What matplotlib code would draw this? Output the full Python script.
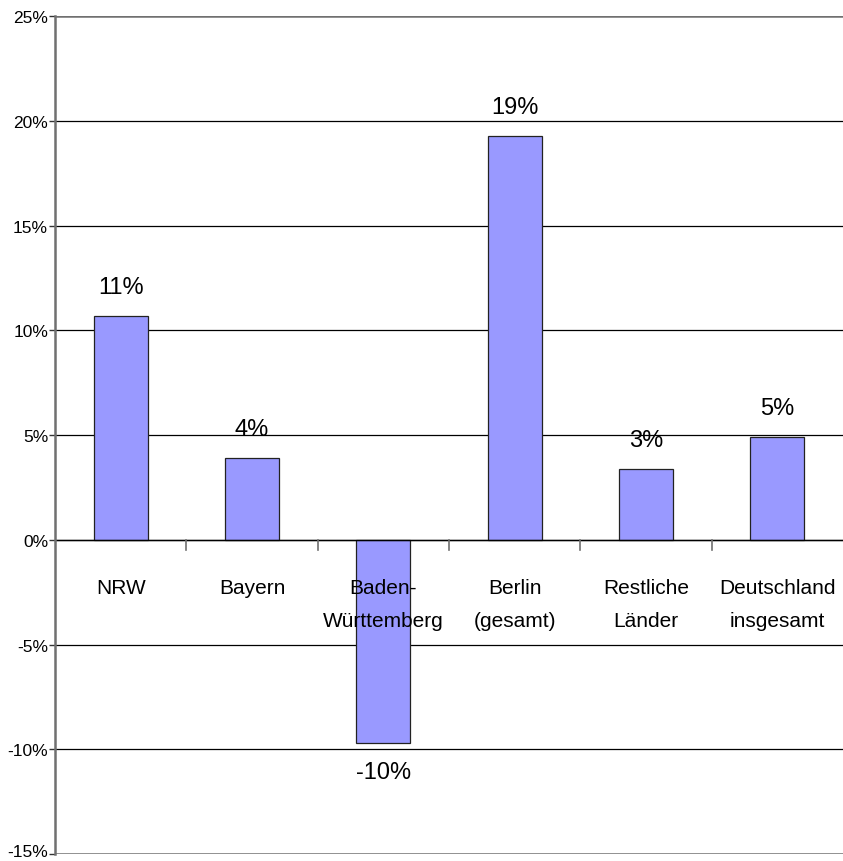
import matplotlib
matplotlib.use("Agg")
import matplotlib.pyplot as plt
import matplotlib.transforms as mtransforms
import numpy as np

categories = ["NRW", "Bayern", "Baden-\nWürttemberg", "Berlin\n(gesamt)", "Restliche\nLänder", "Deutschland\ninsgesamt"]
values = [10.7, 3.9, -9.7, 19.25, 3.4, 4.9]
value_labels = ["11%", "4%", "-10%", "19%", "3%", "5%"]
yticks = [-15, -10, -5, 0, 5, 10, 15, 20, 25]
ytick_labels = ["-15%", "-10%", "-5%", "0%", "5%", "10%", "15%", "20%", "25%"]

plt.rcParams['font.family'] = ['Liberation Sans', 'DejaVu Sans']

fig = plt.figure(figsize=(8.43, 8.62), dpi=100)
ax = fig.add_axes([55/843, 1-855/862, 1-55/843, (855-17)/862])

x = np.arange(len(categories))
ax.set_xlim(-0.5, len(categories) - 0.5)
ax.set_ylim(-15, 25)

# gridlines
for t in yticks:
    if t in (-15, 25):
        ax.axhline(t, color="#707070", lw=1.8, zorder=1)
    else:
        ax.axhline(t, color="#000000", lw=0.9, zorder=1)

ax.bar(x, values, width=0.41, color="#9999FF", edgecolor="#222222", linewidth=0.9, zorder=3)
ax.axhline(0, color="#000000", lw=1.0, zorder=4)

# category boundary ticks below zero line
for b in np.arange(0.5, len(categories) - 0.5, 1.0):
    ax.plot([b, b], [0, -0.5], color="#707070", lw=1.2, zorder=4, clip_on=False)

for xi, v, lab in zip(x, values, value_labels):
    off = 29 if v >= 0 else -29
    ax.annotate(lab, (xi, v), xytext=(0, off), textcoords="offset pixels",
                ha="center", va="center", fontsize=17)

for xi, cat in zip(x, categories):
    ax.annotate(cat, (xi, 0), xytext=(0, -38), textcoords="offset pixels",
                ha="center", va="top", fontsize=15, linespacing=1.95, zorder=5)

ax.set_xticks([])
ax.set_yticks(yticks)
ax.set_yticklabels(ytick_labels, fontsize=12.5)
ax.tick_params(axis="y", length=4, width=1, color="#333333", pad=1)

# nudge the bottom tick label up slightly so it stays inside the figure
lbl = ax.get_yticklabels()[0]
lbl.set_transform(lbl.get_transform() + mtransforms.ScaledTranslation(0, 4/100, fig.dpi_scale_trans))

for s in ["top", "right", "bottom"]:
    ax.spines[s].set_visible(False)
ax.spines["left"].set_color("#707070")
ax.spines["left"].set_linewidth(1.8)
ax.spines["left"].set_zorder(6)

fig.savefig("out.png", dpi=100)
